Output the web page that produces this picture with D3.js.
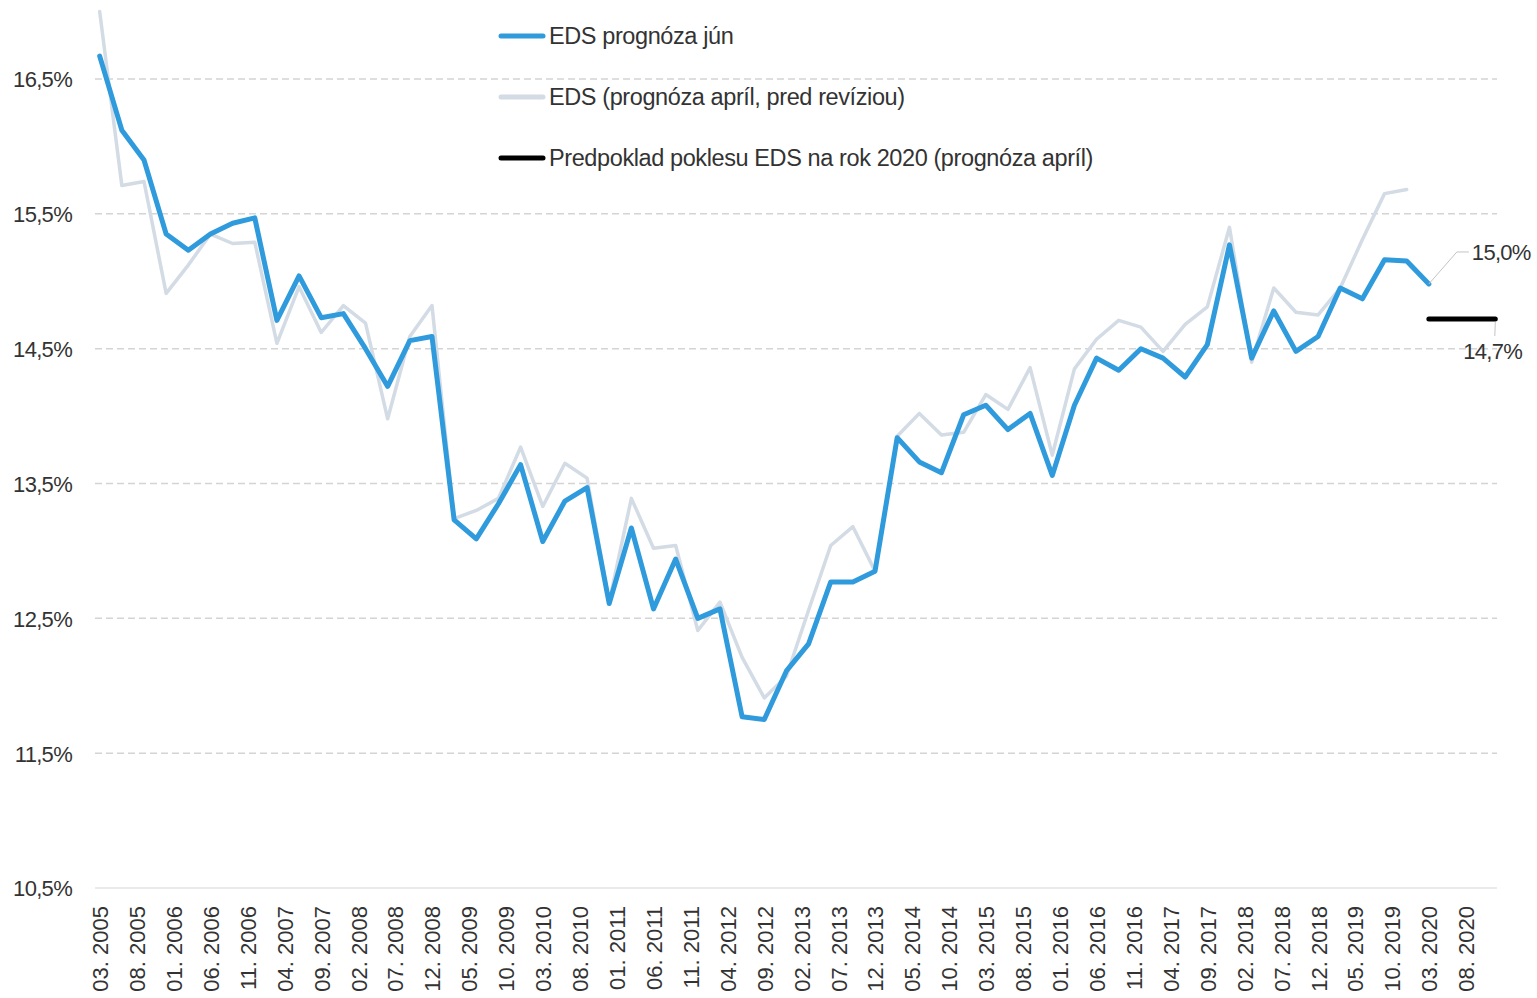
<!DOCTYPE html>
<html>
<head>
<meta charset="utf-8">
<script src="https://cdn.jsdelivr.net/npm/d3@7/dist/d3.min.js"></script>
<style>
  html, body { margin: 0; padding: 0; background: #ffffff; }
  svg { display: block; }
  text { font-family: "Liberation Sans", Arial, sans-serif; fill: #333333; }
</style>
</head>
<body>
<svg id="chart" width="1537" height="998"></svg>
<script>
// ---------- DATA ----------
// quarterly observations (month index counted from 03.2005)
const quarters = [
  "03.2005","06.2005","09.2005","12.2005","03.2006","06.2006","09.2006","12.2006",
  "03.2007","06.2007","09.2007","12.2007","03.2008","06.2008","09.2008","12.2008",
  "03.2009","06.2009","09.2009","12.2009","03.2010","06.2010","09.2010","12.2010",
  "03.2011","06.2011","09.2011","12.2011","03.2012","06.2012","09.2012","12.2012",
  "03.2013","06.2013","09.2013","12.2013","03.2014","06.2014","09.2014","12.2014",
  "03.2015","06.2015","09.2015","12.2015","03.2016","06.2016","09.2016","12.2016",
  "03.2017","06.2017","09.2017","12.2017","03.2018","06.2018","09.2018","12.2018",
  "03.2019","06.2019","09.2019","12.2019","03.2020"
];
const edsJun = [
  16.67,16.12,15.90,15.35,15.23,15.35,15.43,15.47,
  14.71,15.04,14.73,14.76,14.50,14.22,14.56,14.59,
  13.23,13.09,13.35,13.64,13.07,13.37,13.47,12.61,
  13.17,12.57,12.94,12.50,12.57,11.77,11.75,12.11,
  12.31,12.77,12.77,12.85,13.84,13.66,13.58,14.01,
  14.08,13.90,14.02,13.56,14.08,14.43,14.34,14.50,
  14.43,14.29,14.53,15.27,14.43,14.78,14.48,14.59,
  14.95,14.87,15.16,15.15,14.98
];
const edsApril = [
  17.00,15.71,15.74,14.91,15.12,15.35,15.28,15.29,
  14.54,14.96,14.62,14.82,14.69,13.98,14.59,14.82,
  13.24,13.30,13.39,13.77,13.33,13.65,13.54,12.62,
  13.39,13.02,13.04,12.41,12.62,12.21,11.91,12.07,
  12.56,13.04,13.18,12.85,13.85,14.02,13.86,13.88,
  14.16,14.05,14.36,13.71,14.35,14.57,14.71,14.66,
  14.48,14.68,14.81,15.40,14.40,14.95,14.77,14.75,
  14.95,15.31,15.65,15.68
];
const dropDates = ["03.2020","12.2020"];
const dropValues = [14.72, 14.72];

const xTickLabels = [
  "03. 2005","08. 2005","01. 2006","06. 2006","11. 2006","04. 2007","09. 2007","02. 2008",
  "07. 2008","12. 2008","05. 2009","10. 2009","03. 2010","08. 2010","01. 2011","06. 2011",
  "11. 2011","04. 2012","09. 2012","02. 2013","07. 2013","12. 2013","05. 2014","10. 2014",
  "03. 2015","08. 2015","01. 2016","06. 2016","11. 2016","04. 2017","09. 2017","02. 2018",
  "07. 2018","12. 2018","05. 2019","10. 2019","03. 2020","08. 2020"
];
const yTicks = [10.5, 11.5, 12.5, 13.5, 14.5, 15.5, 16.5];
const legendLabels = [
  "EDS prognóza jún",
  "EDS (prognóza apríl, pred revíziou)",
  "Predpoklad poklesu EDS na rok 2020 (prognóza apríl)"
];
const endLabels = ["15,0%", "14,7%"];

// ---------- HELPERS ----------
function monthIndex(s) {           // "MM.YYYY" or "MM. YYYY" -> months since 03.2005
  const p = s.replace(" ", "").split(".");
  return (+p[1] - 2005) * 12 + (+p[0] - 3);
}

const svg = d3.select("#chart");
const colors = { jun: "#2f9bdc", april: "#d3dbe5", drop: "#000000", grid: "#d4d4d4" };
const FONT = "Liberation Sans, Arial, sans-serif";

const x = d3.scaleLinear().domain([-0.5, 189.5]).range([96, 1499]);
const y = d3.scaleLinear().domain([10.5, 17.0]).range([888, 888 - 6.5 * 134.83]);

// ---------- GRID ----------
const grid = svg.append("g");
grid.selectAll("line").data(yTicks).enter().append("line")
  .attr("x1", 95).attr("x2", 1497)
  .attr("y1", d => y(d)).attr("y2", d => y(d))
  .attr("stroke", d => d === 10.5 ? "#e3e3e3" : colors.grid)
  .attr("stroke-width", 1.5)
  .attr("stroke-dasharray", d => d === 10.5 ? null : "7,4");

// y axis labels via d3 axis
const yAxis = d3.axisLeft(y).tickValues(yTicks)
  .tickFormat(d => d3.format(".1f")(d).replace(".", ",") + "%")
  .tickSize(0).tickPadding(0);
const yg = svg.append("g").attr("transform", "translate(72,0)").call(yAxis);
yg.select(".domain").remove();
yg.selectAll("text")
  .attr("font-size", 22).attr("font-family", FONT)
  .attr("fill", "#333").attr("letter-spacing", "-0.7").attr("dy", "0.36em");

// x axis labels
const xAxis = d3.axisBottom(x)
  .tickValues(xTickLabels.map(monthIndex))
  .tickFormat((d, i) => xTickLabels[i])
  .tickSize(0).tickPadding(0);
const xg = svg.append("g").attr("transform", "translate(0,906)").call(xAxis);
xg.select(".domain").remove();
xg.selectAll("text")
  .attr("font-size", 22).attr("font-family", FONT)
  .attr("fill", "#333")
  .attr("transform", "rotate(-90)")
  .attr("text-anchor", "end")
  .attr("x", 0).attr("y", 0).attr("dy", "0.36em");

// ---------- LINES ----------
const line = d3.line().x(d => x(d[0])).y(d => y(d[1])).curve(d3.curveLinear);

svg.append("path")
  .datum(edsApril.map((v, i) => [monthIndex(quarters[i]), v]))
  .attr("d", line).attr("fill", "none")
  .attr("stroke", colors.april).attr("stroke-width", 3.5)
  .attr("stroke-linejoin", "round").attr("stroke-linecap", "round");

svg.append("path")
  .datum(edsJun.map((v, i) => [monthIndex(quarters[i]), v]))
  .attr("d", line).attr("fill", "none")
  .attr("stroke", colors.jun).attr("stroke-width", 5)
  .attr("stroke-linejoin", "round").attr("stroke-linecap", "round");

svg.append("path")
  .datum(dropValues.map((v, i) => [monthIndex(dropDates[i]), v]))
  .attr("d", line).attr("fill", "none")
  .attr("stroke", colors.drop).attr("stroke-width", 5)
  .attr("stroke-linecap", "round");

// ---------- END ANNOTATIONS ----------
const lastIdx = edsJun.length - 1;
const ex = x(monthIndex(quarters[lastIdx])), ey = y(edsJun[lastIdx]);
svg.append("polyline")
  .attr("points", [[ex, ey], [ex + 28, ey - 32], [ex + 40, ey - 32]].map(p => p.join(",")).join(" "))
  .attr("fill", "none").attr("stroke", "#c4c4c4").attr("stroke-width", 1);
svg.append("text").attr("x", ex + 43).attr("y", ey - 32).attr("dy", "0.36em")
  .attr("font-size", 22).attr("letter-spacing", "-0.7").text(endLabels[0]);

const dx = x(monthIndex(dropDates[1])), dy = y(dropValues[1]);
svg.append("line")
  .attr("x1", dx).attr("y1", dy + 3).attr("x2", dx - 0.5).attr("y2", dy + 17)
  .attr("stroke", "#c4c4c4").attr("stroke-width", 1);
svg.append("text").attr("x", dx - 32).attr("y", dy + 32).attr("dy", "0.36em")
  .attr("font-size", 22).attr("letter-spacing", "-0.7").text(endLabels[1]);

// ---------- LEGEND ----------
const legendColors = [colors.jun, colors.april, colors.drop];
const legend = svg.append("g").attr("transform", "translate(499,36)");
const items = legend.selectAll("g").data(legendLabels).enter().append("g")
  .attr("transform", (d, i) => `translate(0,${i * 61})`);
items.append("line").attr("x1", 2).attr("x2", 44).attr("y1", 0).attr("y2", 0)
  .attr("stroke", (d, i) => legendColors[i]).attr("stroke-width", 5)
  .attr("stroke-linecap", "round");
items.append("text").attr("x", 50).attr("y", 0).attr("dy", "0.36em")
  .attr("font-size", 23.5).attr("letter-spacing", "-0.4").text(d => d);
</script>
</body>
</html>
